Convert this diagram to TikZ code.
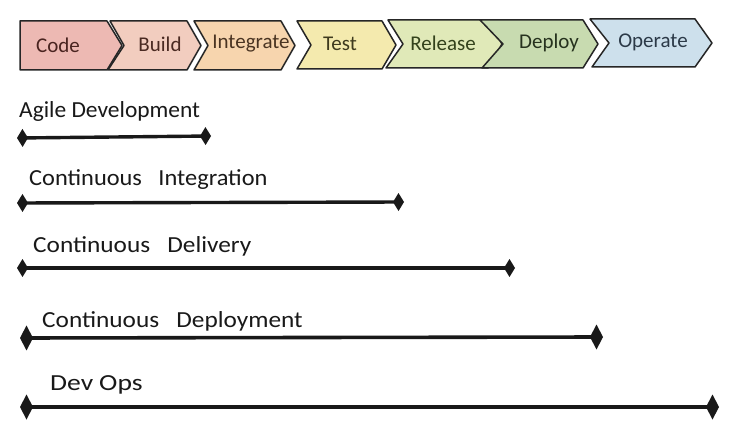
\documentclass[tikz,border=0pt]{standalone}
\usepackage{fontspec}
\setmainfont{Carlito}
\usetikzlibrary{arrows.meta}
\definecolor{cCode}{HTML}{EDB9B3}
\definecolor{cBuild}{HTML}{F2CDBF}
\definecolor{cInteg}{HTML}{F7D5AE}
\definecolor{cTest}{HTML}{F4EAAE}
\definecolor{cRel}{HTML}{E0E9B8}
\definecolor{cDep}{HTML}{C8DBB0}
\definecolor{cOp}{HTML}{CDE0EC}
\definecolor{tCode}{HTML}{4A2420}
\definecolor{tBuild}{HTML}{4A2A22}
\definecolor{tInteg}{HTML}{4A3422}
\definecolor{tTest}{HTML}{3E3A1E}
\definecolor{tRel}{HTML}{33421C}
\definecolor{tDep}{HTML}{26321E}
\definecolor{tOp}{HTML}{2C3A48}
\tikzset{
  chev/.style={draw=black!85, line width=1.5pt, line join=round},
  chevtext/.style={font=\fontsize{21}{24}\selectfont, inner sep=0pt},
  lbl/.style={font=\fontsize{23}{26}\selectfont, anchor=base west, inner sep=0pt, text=black!90},
  span/.style={line width=3.4pt, black!90,
    {Diamond[length=11pt,width=18pt]}-{Diamond[length=11pt,width=18pt]}},
  spanbig/.style={line width=3.6pt, black!90,
    {Diamond[length=13pt,width=25pt]}-{Diamond[length=13pt,width=25pt]}}
}
\begin{document}
\begin{tikzpicture}[x=1pt,y=-1pt]
\useasboundingbox[fill=white] (0,0) rectangle (749,438);
% chevrons
\draw[chev, fill=cCode]  (20,21) -- (107,21) -- (122,45.5) -- (107,70) -- (20,70) -- cycle;
\draw[chev, fill=cBuild] (110,21) -- (187,21) -- (201,45.5) -- (187,70) -- (108,70) -- (124,45.5) -- cycle;
\draw[chev, fill=cInteg] (194,21) -- (281,21) -- (295,45.5) -- (281,70) -- (194,70) -- (208,45.5) -- cycle;
\draw[chev, fill=cTest]  (297,21) -- (382,21) -- (396,45) -- (382,69) -- (297,69) -- (311,45) -- cycle;
\draw[chev, fill=cRel]   (388,20) -- (488,20) -- (502,44) -- (488,68) -- (386,68) -- (403,44) -- cycle;
\draw[chev, fill=cDep]   (480,20) -- (583,20) -- (598,44) -- (583,68) -- (482,68) -- (503,44) -- cycle;
\draw[chev, fill=cOp]    (590,19) -- (695,19) -- (712,43) -- (695,67) -- (592,67) -- (609,43) -- cycle;
\node[chevtext, text=tCode]  (code)  at (58,45)  {Code};
\node[chevtext, text=tBuild] (build) at (160,44) {Build};
\node[chevtext, text=tInteg] (integ) at (251,44) {Integrate};
\node[chevtext, text=tTest]  (test)  at (340,44) {Test};
\node[chevtext, text=tRel]   (rel)   at (443,43) {Release};
\node[chevtext, text=tDep]   (dep)   at (549,43) {Deploy};
\node[chevtext, text=tOp]    (op)    at (653,42) {Operate};
% labels
\node[lbl] (l1) at (19,118) {\scalebox{1.02}[1]{Agile Development}};
\node[lbl] (l2) at (29,186) {\scalebox{1.06}[1]{Continuous\ \ \ Integration}};
\node[lbl] (l3) at (33,252) {\scalebox{1.1}[1]{Continuous\ \ \ Delivery}};
\node[lbl] (l4) at (42,327) {\scalebox{1.1}[1]{Continuous\ \ \ Deployment}};
\node[lbl] (l5) at (50,390) {\scalebox{1.2}[1]{Dev\hspace{5pt}Ops}};
% spans
\coordinate (a1) at (17,138);  \coordinate (a2) at (211,136);
\coordinate (b1) at (17,203);  \coordinate (b2) at (404,202);
\coordinate (c1) at (17,268);  \coordinate (c2) at (515,268);
\coordinate (d1) at (20,338);  \coordinate (d2) at (603,337);
\coordinate (e1) at (20,407);  \coordinate (e2) at (719,407);
\draw[span] (a1) -- (a2);
\draw[span] (b1) -- (b2);
\draw[span] (c1) -- (c2);
\draw[spanbig] (d1) -- (d2);
\draw[spanbig] (e1) -- (e2);
\end{tikzpicture}
\end{document}
